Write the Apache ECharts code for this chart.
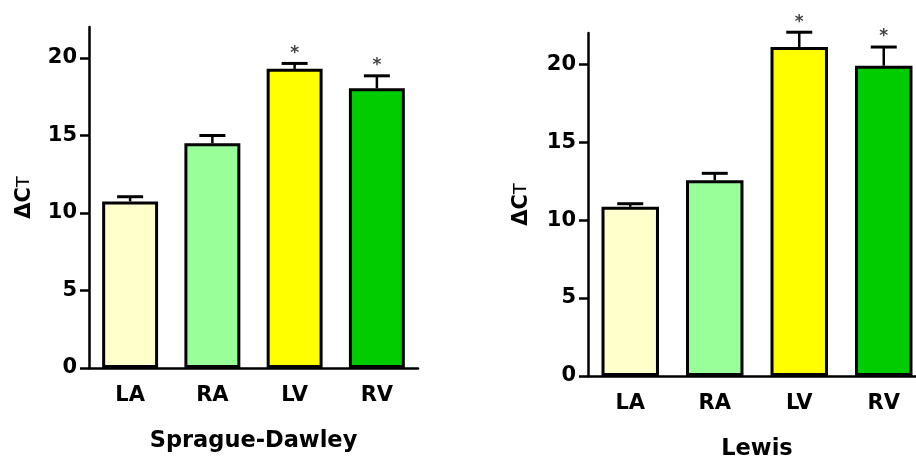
<!DOCTYPE html>
<html>
<head>
<meta charset="utf-8">
<script src="https://cdn.jsdelivr.net/npm/echarts@6/dist/echarts.min.js"></script>
<style>
  html, body { margin: 0; padding: 0; background: #fff; }
  #chart { width: 916px; height: 461px; }
</style>
</head>
<body>
<div id="chart"></div>
<script>
  // categories and values
  const categories = ['LA', 'RA', 'LV', 'RV'];
  const barColors = ['#FFFFCC', '#99FF99', '#FFFF00', '#00CC00'];
  const yTicks = [0, 5, 10, 15, 20];

  const sdMeans = [10.75, 14.5, 19.3, 18.05];
  const sdErr = [0.3, 0.5, 0.35, 0.8];
  const sdStars = ['', '', '*', '*'];

  const lewisMeans = [10.85, 12.55, 21.1, 19.9];
  const lewisErr = [0.2, 0.45, 0.95, 1.2];
  const lewisStars = ['', '', '*', '*'];

  const font = 'DejaVu Sans';

  const makeErrorSeries = (idx, means, errs, stars) => ({
    type: 'custom',
    xAxisIndex: idx,
    yAxisIndex: idx,
    z: 5,
    data: means.map((m, i) => [i, m, m + errs[i], stars[i]]),
    renderItem: function (params, api) {
      const bottom = api.coord([api.value(0), api.value(1)]);
      const top = api.coord([api.value(0), api.value(2)]);
      const half = 13;
      const children = [
        {
          type: 'line',
          shape: { x1: bottom[0], y1: bottom[1], x2: top[0], y2: top[1] },
          style: { stroke: '#000', lineWidth: 2.5 }
        },
        {
          type: 'line',
          shape: { x1: top[0] - half, y1: top[1], x2: top[0] + half, y2: top[1] },
          style: { stroke: '#000', lineWidth: 3 }
        }
      ];
      const star = api.value(3);
      if (star) {
        children.push({
          type: 'text',
          style: {
            x: top[0],
            y: top[1] - 10,
            text: star,
            align: 'center',
            verticalAlign: 'middle',
            font: 'bold 17px "' + font + '"',
            fill: '#444'
          }
        });
      }
      return { type: 'group', children: children };
    }
  });

  const makeBarSeries = (idx, means) => ({
    type: 'bar',
    xAxisIndex: idx,
    yAxisIndex: idx,
    barWidth: '68%',
    data: means.map((m, i) => ({
      value: m,
      itemStyle: { color: barColors[i] }
    })),
    itemStyle: { borderColor: '#000', borderWidth: 3 }
  });

  const makeXAxis = (idx, name) => ({
    type: 'category',
    gridIndex: idx,
    data: categories,
    name: name,
    nameLocation: 'middle',
    nameGap: 62,
    nameTextStyle: { fontFamily: font, fontWeight: 'bold', fontSize: 22.5, color: '#000' },
    axisLine: { lineStyle: { color: '#000', width: 2.5 } },
    axisTick: { alignWithLabel: true, length: 10, lineStyle: { color: '#000', width: 2.5 } },
    axisLabel: { fontFamily: font, fontWeight: 'bold', fontSize: 21, color: '#000', margin: 17 }
  });

  const makeYAxis = (idx, gap) => ({
    type: 'value',
    gridIndex: idx,
    min: 0,
    max: 22,
    name: '{a|ΔC}{b|T}',
    nameLocation: 'middle',
    nameGap: gap,
    nameTextStyle: {
      rich: {
        a: { fontFamily: font, fontWeight: 'bold', fontSize: 21, color: '#000' },
        b: { fontFamily: font, fontWeight: 'normal', fontSize: 18, color: '#000' }
      }
    },
    splitLine: { show: false },
    axisLine: { show: true, lineStyle: { color: '#000', width: 2.5 } },
    axisTick: { show: true, length: 9, customValues: yTicks, lineStyle: { color: '#000', width: 2.5 } },
    axisLabel: { fontFamily: font, fontWeight: 'bold', fontSize: 21, color: '#000', margin: 12, customValues: yTicks }
  });

  const option = {
    animation: false,
    backgroundColor: '#fff',
    grid: [
      { left: 89, top: 27, width: 329, height: 341, outerBoundsMode: 'none' },
      { left: 588, top: 33, width: 338, height: 343, outerBoundsMode: 'none' }
    ],
    xAxis: [makeXAxis(0, 'Sprague-Dawley'), makeXAxis(1, 'Lewis')],
    yAxis: [makeYAxis(0, 54), makeYAxis(1, 56)],
    series: [
      makeBarSeries(0, sdMeans),
      makeErrorSeries(0, sdMeans, sdErr, sdStars),
      makeBarSeries(1, lewisMeans),
      makeErrorSeries(1, lewisMeans, lewisErr, lewisStars)
    ]
  };

  const myChart = echarts.init(document.getElementById('chart'));
  option && myChart.setOption(option);
</script>
</body>
</html>
